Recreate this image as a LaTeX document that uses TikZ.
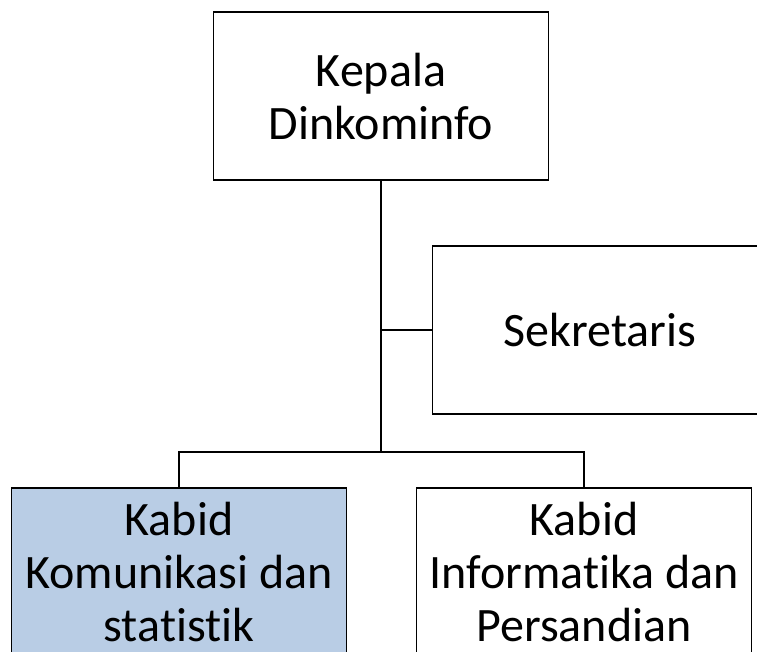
\documentclass[tikz,border=0pt]{standalone}
\usepackage{fontspec}
\setmainfont{Carlito}[RawFeature={-liga;-clig}]
\definecolor{kabidblue}{RGB}{185,205,229}
\begin{document}
\begin{tikzpicture}[x=1pt, y=-1pt, line width=1.5pt,
    jabatan/.style={rectangle, draw, minimum width=335pt, minimum height=168pt,
      inner sep=0pt, align=center, font=\fontsize{48}{53}\selectfont}]
          \clip (0,0) rectangle (757,651);

          \node[jabatan] (kepala) at (381, 96) {Kepala\\Dinkominfo};
          \node[jabatan] (sekretaris) at (600, 330) {Sekretaris};
          \node[jabatan, fill=kabidblue] (kabkom) at (179, 572) {Kabid\\Komunikasi dan\\statistik};
          \node[jabatan] (kabinf) at (584, 572) {Kabid\\Informatika dan\\Persandian};

          \coordinate (cabang) at (381, 452);

          \draw (kepala) -- (cabang);
          \draw (sekretaris.west) -- (sekretaris.west -| kepala);
          \draw (kabkom.north) |- (cabang);
          \draw (kabinf.north) |- (cabang);
        \end{tikzpicture}
\end{document}
